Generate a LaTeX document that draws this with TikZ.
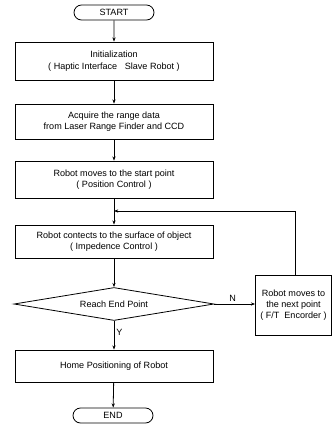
\documentclass[tikz,border=0pt]{standalone}
\usepackage{fontspec}
\setmainfont{Liberation Sans}
\usetikzlibrary{arrows.meta,shapes.geometric,shapes.misc}
\tikzset{
    >={Stealth[length=3.2pt,width=2.4pt]},
    every edge/.append style={line width=0.6pt},
    terminal/.style={rounded rectangle,draw,line width=0.6pt,minimum width=60pt,minimum height=11.25pt,inner sep=0pt,font=\fontsize{6.8}{8.5}\selectfont},
    process/.style={rectangle,draw,line width=0.6pt,minimum width=148.5pt,align=center,inner sep=1pt,font=\fontsize{6.8}{8.5}\selectfont},
    decision/.style={diamond,aspect=6,draw,line width=0.6pt,minimum width=150pt,minimum height=24.75pt,inner sep=0pt,font=\fontsize{6.8}{8.5}\selectfont},
    lbl/.style={font=\fontsize{6.8}{8.5}\selectfont,inner sep=1.5pt}
}

\begin{document}
\begin{tikzpicture}[x=0.75pt,y=-0.75pt]
\useasboundingbox (0,0) rectangle (333,426);

    \node[terminal] (start) at (114, 12.5) {START};
    \node[process,minimum height=28.5pt] (init) at (114, 61) {Initialization\\( Haptic Interface \ \ Slave Robot )};
    \node[process,minimum height=26.25pt] (acquire) at (114, 121.5) {Acquire the range data\\from Laser Range Finder and CCD};
    \node[process,minimum height=27.75pt] (startpt) at (114, 179.5) {Robot moves to the start point\\( Position Control )};
    \node[process,minimum height=24.75pt] (contact) at (114, 241.5) {Robot contects to the surface of object\\( Impedence Control )};
    \node[decision] (reach) at (114, 304) {Reach End Point};
    \node[process,minimum width=57pt,minimum height=45pt] (nextpt) at (293.5, 305) {Robot moves to\\the next point\\( F/T \ Encorder )};
    \node[process,minimum height=24pt] (home) at (114, 366) {Home Positioning of Robot};
    \node[terminal] (end) at (113, 415.5) {END};
    \coordinate (join) at (114, 211);

    \path (start) edge[->] (init)
          (init) edge[->] (acquire)
          (acquire) edge[->] (startpt)
          (startpt) edge[->] (contact)
          (contact) edge[->] (reach)
          (reach) edge[->] node[lbl,right,pos=0.4] {Y} (home)
          (home) edge[->] (end)
          (reach.east) edge[->] node[lbl,above,pos=0.45] {N} (reach.east -| nextpt.west);
    \draw[->,line width=0.6pt] (nextpt.north -| 295,0) |- (join);

\end{tikzpicture}
\end{document}
